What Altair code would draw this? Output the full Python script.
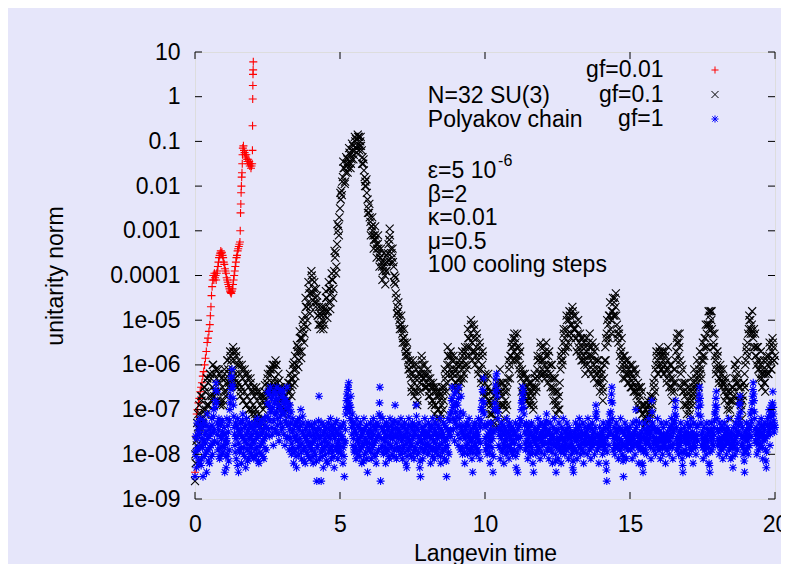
import altair as alt
import pandas as pd

# ---------------- data ----------------
series_names = ["gf=0.01", "gf=0.1", "gf=1"]
series_colors = ["#ff0000", "#000000", "#0000ff"]

# gf=0.01 (red +): Langevin time and log10(unitarity norm)
red_t = [0.00, 0.03, 0.06, 0.09, 0.12, 0.15, 0.18, 0.21, 0.24, 0.27, 0.30, 0.33, 0.36, 0.39, 0.42,
         0.45, 0.48, 0.51, 0.53, 0.55, 0.57, 0.59, 0.61, 0.63, 0.65, 0.67, 0.69, 0.71, 0.73, 0.75,
         0.77, 0.79, 0.81, 0.83, 0.85, 0.87, 0.89, 0.91, 0.93, 0.95, 0.97, 0.99, 1.01, 1.03, 1.05,
         1.07, 1.09, 1.11, 1.13, 1.15, 1.17, 1.19, 1.21, 1.23, 1.25, 1.27, 1.29, 1.31, 1.33, 1.35,
         1.37, 1.39, 1.41, 1.43, 1.45, 1.47, 1.49, 1.51, 1.53, 1.55, 1.56, 1.57, 1.58, 1.59, 1.60,
         1.61, 1.62, 1.63, 1.64, 1.65, 1.67, 1.69, 1.71, 1.73, 1.75, 1.77, 1.79, 1.81, 1.83, 1.85,
         1.87, 1.89, 1.91, 1.93, 1.95, 1.97, 1.98, 1.985, 1.99, 1.995, 2.00, 2.005, 2.01]
red_log10 = [-8.4, -7.6, -7.1, -7.0, -6.85, -6.75, -6.6, -6.5, -6.4, -6.25, -6.15, -6.0, -5.85, -5.7, -5.5,
             -5.4, -5.25, -5.1, -4.9, -4.7, -4.45, -4.25, -4.1, -4.0, -4.1, -3.95, -4.05, -4.0, -4.1, -3.95,
             -3.9, -3.8, -3.7, -3.6, -3.55, -3.5, -3.45, -3.5, -3.48, -3.55, -3.6, -3.7, -3.75, -3.85, -3.9,
             -3.95, -4.05, -4.1, -4.15, -4.2, -4.25, -4.3, -4.35, -4.38, -4.4, -4.35, -4.3, -4.2, -4.1, -4.0,
             -3.9, -3.8, -3.7, -3.6, -3.55, -3.45, -3.4, -3.35, -3.3, -3.25, -3.0, -2.6, -2.4, -2.15, -2.0,
             -1.8, -1.7, -1.5, -1.3, -1.15, -1.1, -1.2, -1.25, -1.3, -1.35, -1.3, -1.4, -1.45, -1.4, -1.5,
             -1.45, -1.55, -1.5, -1.6, -1.55, -1.5, -1.2, -0.65, -0.05, 0.25, 0.5, 0.6, 0.78]

# gf=0.1 (black x): log10 values, one row per unit of Langevin time.
# black_rows at t = k + j*0.05 ; black_mid_rows at k + 0.025 + j*0.05 ; black_extra_rows at k + 0.0125 + j*0.05
black_dt = 0.05
black_rows = [
    [-8.6, -7.7, -7.4, -6.9, -7.1, -6.7, -7.0, -6.6, -6.9, -6.4, -6.7, -6.3, -6.5, -6.2, -6.6, -6.3, -6.6, -6.4, -6.8, -6.5],
    [-6.6, -6.3, -6.4, -6.1, -6.2, -5.9, -6.1, -5.9, -6.2, -6.0, -6.4, -6.2, -6.5, -6.3, -6.6, -6.4, -6.7, -6.5, -6.8, -6.6],
    [-6.9, -6.7, -7.0, -6.8, -7.1, -6.9, -7.2, -7.0, -6.6, -6.8, -6.3, -6.5, -6.2, -6.4, -6.1, -6.3, -6.0, -6.4, -6.5, -6.7],
    [-6.8, -6.6, -7.0, -6.8, -6.6, -6.4, -6.5, -6.3, -6.1, -5.8, -6.0, -5.6, -5.7, -5.4, -5.4, -5.1, -4.9, -4.7, -4.6, -4.4],
    [-4.4, -4.1, -4.3, -4.5, -4.6, -4.9, -5.1, -4.9, -5.0, -4.7, -4.8, -4.5, -4.6, -4.3, -4.4, -4.1, -3.9, -3.5, -3.3, -2.9],
    [-2.5, -2.1, -1.8, -1.6, -1.7, -1.4, -1.5, -1.3, -1.4, -1.1, -1.2, -0.95, -1.1, -0.9, -1.0, -1.2, -1.5, -1.8, -2.0, -2.3],
    [-2.6, -2.8, -2.9, -3.1, -3.1, -3.3, -3.3, -3.5, -3.6, -3.8, -3.7, -4.0, -3.9, -3.5, -3.2, -3.4, -3.6, -3.8, -4.2, -4.5],
    [-4.8, -5.0, -5.1, -5.3, -5.4, -5.6, -5.7, -5.9, -6.1, -6.3, -6.2, -6.4, -6.3, -6.6, -6.5, -6.4, -6.1, -6.0, -6.3, -6.2],
    [-6.5, -6.3, -6.7, -6.5, -6.8, -6.6, -6.9, -6.7, -7.0, -6.8, -6.9, -6.6, -6.5, -6.2, -6.0, -5.8, -6.1, -5.9, -6.2, -6.1],
    [-6.4, -6.2, -6.3, -6.0, -6.1, -5.9, -6.0, -5.8, -5.6, -5.4, -5.3, -5.5, -5.4, -5.7, -5.6, -5.9, -5.8, -6.1, -6.0, -6.3],
    [-6.4, -6.6, -6.5, -6.8, -6.9, -7.1, -7.0, -7.2, -6.8, -6.6, -6.4, -6.6, -6.7, -6.9, -6.8, -6.6, -6.3, -6.0, -5.8, -5.6],
    [-5.7, -5.5, -5.6, -5.8, -6.0, -6.3, -6.5, -6.4, -6.6, -6.5, -6.7, -6.6, -6.8, -6.7, -6.5, -6.3, -6.1, -5.9, -5.8, -5.9],
    [-5.9, -6.0, -5.8, -6.1, -6.0, -6.2, -6.3, -6.5, -6.6, -6.8, -6.9, -6.7, -6.1, -5.7, -5.5, -5.4, -5.2, -5.3, -5.0, -5.1],
    [-5.1, -4.9, -5.2, -5.4, -5.3, -5.5, -5.7, -5.6, -5.8, -5.9, -5.7, -5.8, -5.6, -5.9, -5.8, -6.0, -5.9, -6.1, -6.2, -6.3],
    [-6.4, -6.5, -6.3, -5.6, -5.3, -5.1, -4.9, -5.0, -4.8, -4.6, -4.7, -5.1, -5.5, -5.8, -5.7, -6.0, -6.1, -5.9, -6.2, -6.1],
    [-6.3, -6.2, -6.4, -6.3, -6.5, -6.6, -6.8, -6.7, -6.9, -7.1, -7.2, -7.0, -7.1, -6.9, -7.0, -6.8, -6.7, -6.3, -6.0, -5.9],
    [-6.0, -5.8, -6.1, -5.9, -6.0, -6.1, -5.9, -6.2, -6.3, -6.5, -6.4, -6.1, -5.7, -5.3, -5.6, -6.2, -6.4, -6.6, -6.7, -6.9],
    [-6.8, -6.9, -6.6, -6.7, -6.4, -6.5, -6.2, -6.3, -6.0, -6.1, -5.8, -5.6, -5.4, -5.3, -5.1, -4.9, -5.0, -5.3, -5.6, -5.9],
    [-6.0, -6.1, -6.3, -6.2, -6.4, -6.6, -6.5, -6.7, -6.9, -7.0, -6.8, -6.5, -6.3, -6.1, -6.2, -6.5, -6.8, -7.0, -6.7, -6.2],
    [-5.9, -5.5, -5.2, -5.0, -5.1, -5.4, -5.6, -5.8, -5.9, -6.1, -6.0, -6.3, -6.2, -6.4, -6.1, -6.0, -5.8, -5.9, -5.7, -5.6],
    [-5.8],
]
black_mid_rows = [
    [-8.2, -7.3, -7.6, -7.3, -6.8, -7.2, -6.5, -7.0, -6.3, -6.9, -6.2, -6.7, -6.0, -6.6, -6.1, -6.8, -6.2, -6.9, -6.3, -6.8],
    [-6.2, -6.6, -5.9, -6.4, -5.8, -6.3, -5.7, -6.3, -5.8, -6.4, -6.0, -6.6, -6.1, -6.8, -6.2, -6.9, -6.3, -7.0, -6.4, -7.0],
    [-6.6, -7.1, -6.6, -7.2, -6.7, -7.3, -6.8, -6.7, -6.9, -6.4, -6.7, -6.1, -6.6, -6.0, -6.5, -5.9, -6.6, -6.2, -6.8, -6.5],
    [-7.1, -6.9, -6.7, -6.5, -6.8, -6.2, -6.7, -6.0, -6.4, -6.1, -5.7, -5.9, -5.4, -5.7, -5.2, -5.3, -4.7, -5.0, -4.3, -4.7],
    [-4.0, -4.4, -4.6, -4.3, -4.9, -4.7, -5.2, -4.7, -5.2, -4.9, -4.5, -4.8, -4.3, -4.6, -4.1, -4.3, -3.6, -3.8, -3.0, -2.7],
    [-2.3, -1.9, -1.6, -1.9, -1.5, -1.6, -1.25, -1.5, -1.2, -1.3, -1.0, -1.15, -0.9, -1.1, -1.1, -1.35, -1.65, -1.9, -2.15, -2.5],
    [-2.7, -2.9, -3.0, -3.2, -3.2, -3.4, -3.4, -3.6, -3.7, -3.9, -3.8, -3.9, -3.7, -3.3, -3.1, -3.5, -3.7, -4.0, -4.4, -4.7],
    [-4.9, -5.1, -5.2, -5.4, -5.5, -5.7, -5.8, -6.0, -6.2, -6.5, -6.0, -6.6, -6.1, -6.8, -6.3, -6.2, -5.9, -6.2, -6.5, -6.4],
    [-6.2, -6.6, -6.4, -6.8, -6.5, -6.9, -6.6, -7.0, -6.7, -7.1, -6.7, -6.8, -6.3, -6.4, -5.8, -6.0, -5.8, -6.2, -5.9, -6.4],
    [-6.1, -6.5, -6.0, -6.3, -5.8, -6.2, -5.7, -6.0, -5.4, -5.6, -5.1, -5.7, -5.2, -5.8, -5.4, -6.1, -5.6, -6.3, -5.8, -6.6],
    [-6.7, -6.3, -6.8, -6.6, -7.1, -6.8, -7.3, -7.0, -6.5, -6.9, -6.6, -6.4, -6.9, -6.6, -7.0, -6.4, -6.1, -5.8, -5.6, -5.4],
    [-5.4, -5.8, -5.9, -5.6, -6.2, -6.1, -6.7, -6.2, -6.8, -6.3, -6.9, -6.4, -6.6, -6.9, -6.3, -6.5, -5.9, -6.2, -5.6, -6.1],
    [-6.2, -5.7, -6.2, -5.8, -6.3, -6.0, -6.6, -6.3, -6.9, -6.6, -7.0, -6.4, -5.9, -5.9, -5.3, -5.6, -5.0, -5.5, -4.9, -5.3],
    [-4.8, -5.2, -5.4, -5.1, -5.6, -5.3, -5.9, -5.4, -6.0, -5.6, -6.0, -5.5, -5.8, -5.6, -6.1, -5.7, -6.2, -5.9, -6.4, -6.1],
    [-6.2, -6.6, -5.9, -5.4, -5.5, -4.9, -5.2, -4.8, -4.9, -4.5, -4.9, -5.3, -5.3, -5.6, -5.9, -5.8, -6.3, -6.0, -6.4, -6.2],
    [-6.5, -6.0, -6.6, -6.1, -6.7, -6.4, -7.0, -6.5, -7.1, -6.9, -7.0, -7.2, -6.9, -7.1, -6.7, -6.9, -6.5, -6.1, -5.8, -6.2],
    [-5.7, -6.0, -5.8, -6.2, -5.8, -6.3, -6.1, -6.0, -6.6, -6.3, -6.6, -5.9, -5.5, -5.5, -5.9, -6.0, -6.6, -6.4, -6.9, -6.6],
    [-7.0, -6.7, -6.8, -6.5, -6.6, -6.3, -6.4, -6.1, -6.2, -5.9, -5.9, -5.4, -5.6, -5.1, -5.2, -4.8, -5.2, -5.5, -5.8, -6.1],
    [-5.8, -6.3, -6.1, -6.4, -6.3, -6.4, -6.7, -6.6, -6.8, -6.8, -6.6, -6.7, -6.0, -6.3, -6.4, -6.7, -6.9, -6.8, -6.4, -6.0],
    [-5.7, -5.3, -5.0, -5.2, -5.3, -5.2, -5.8, -5.6, -6.1, -5.9, -6.2, -6.1, -6.4, -6.2, -5.9, -6.2, -5.6, -6.1, -5.5, -5.9],
]
black_extra_rows = [
    [-8.0, -7.8, -7.1, -7.4, -6.7, -7.3, -6.5, -7.1, -6.3, -6.9, -6.2, -6.8, -6.0, -6.7, -6.1, -6.8, -6.1, -6.9, -6.3, -6.9],
    [-6.1, -6.7, -5.9, -6.5, -5.7, -6.4, -5.6, -6.4, -5.7, -6.5, -5.9, -6.7, -6.0, -6.8, -6.1, -6.9, -6.2, -7.0, -6.3, -7.1],
    [-6.5, -7.2, -6.5, -7.3, -6.6, -7.4, -6.7, -7.2, -6.45, -6.9, -6.2, -6.6, -6.1, -6.5, -6.0, -6.4, -6.0, -6.6, -6.35, -6.9],
    [-6.6, -7.05, -6.55, -6.95, -6.4, -6.6, -6.3, -6.45, -5.95, -6.25, -5.55, -6.05, -5.25, -5.85, -5.0, -5.5, -4.5, -5.15, -4.15, -4.85],
    [-3.9, -4.55, -4.15, -4.7, -4.45, -5.1, -4.85, -5.1, -4.8, -5.1, -4.35, -4.95, -4.15, -4.75, -3.95, -4.5, -3.45, -3.95, -2.85, -3.1],
    [-2.15, -2.2, -1.45, -1.95, -1.35, -1.7, -1.15, -1.6, -1.05, -1.4, -0.9, -1.25, -0.85, -1.2, -0.9, -1.5, -1.4, -2.0, -1.85, -2.6],
    [-2.4, -3.1, -2.7, -3.4, -2.9, -3.6, -3.1, -3.8, -3.4, -4.1, -3.5, -4.2, -3.55, -3.65, -2.95, -3.7, -3.4, -4.15, -4.05, -4.85],
    [-4.6, -5.2, -4.9, -5.5, -5.2, -5.8, -5.5, -6.1, -5.9, -6.6, -5.9, -6.7, -6.0, -6.9, -6.2, -6.6, -5.8, -6.3, -6.0, -6.5],
    [-6.1, -6.7, -6.3, -6.9, -6.4, -7.1, -6.5, -7.2, -6.6, -7.2, -6.5, -7.0, -6.1, -6.6, -5.6, -6.2, -5.7, -6.3, -5.8, -6.5],
    [-6.0, -6.6, -5.9, -6.4, -5.7, -6.3, -5.6, -6.1, -5.2, -5.8, -5.0, -5.9, -5.1, -6.0, -5.3, -6.2, -5.5, -6.4, -5.7, -6.7],
    [-6.2, -6.9, -6.2, -7.1, -6.6, -7.4, -6.7, -7.4, -6.4, -7.0, -6.1, -6.9, -6.4, -7.2, -6.5, -6.9, -5.9, -6.3, -5.5, -5.9],
    [-5.3, -5.9, -5.3, -6.1, -5.7, -6.6, -6.2, -6.7, -6.3, -6.8, -6.4, -6.9, -6.5, -7.0, -6.2, -6.6, -5.8, -6.3, -5.5, -6.2],
    [-5.6, -6.3, -5.5, -6.4, -5.7, -6.5, -6.0, -6.8, -6.3, -7.1, -6.6, -7.0, -5.8, -6.0, -5.2, -5.7, -4.9, -5.6, -4.8, -5.4],
    [-4.7, -5.2, -4.9, -5.7, -5.0, -5.8, -5.4, -5.9, -5.5, -6.2, -5.4, -6.1, -5.3, -6.2, -5.5, -6.3, -5.6, -6.4, -5.9, -6.6],
    [-6.1, -6.8, -6.0, -5.9, -5.0, -5.4, -4.6, -5.3, -4.5, -4.9, -4.4, -5.4, -5.2, -6.1, -5.4, -6.3, -5.8, -6.2, -5.9, -6.4],
    [-6.0, -6.5, -6.1, -6.6, -6.2, -6.9, -6.5, -7.0, -6.6, -7.4, -6.9, -7.3, -6.8, -7.2, -6.7, -7.1, -6.4, -6.6, -5.7, -6.2],
    [-5.6, -6.1, -5.7, -6.2, -5.7, -6.4, -5.6, -6.5, -6.0, -6.8, -6.1, -6.4, -5.4, -5.8, -5.3, -6.5, -6.1, -6.9, -6.4, -7.1],
    [-6.5, -7.1, -6.3, -6.9, -6.1, -6.7, -5.9, -6.5, -5.7, -6.3, -5.5, -5.8, -5.1, -5.6, -4.8, -5.1, -4.8, -5.6, -5.3, -6.2],
    [-5.7, -6.4, -6.0, -6.5, -6.1, -6.8, -6.3, -7.0, -6.6, -7.2, -6.5, -6.8, -6.0, -6.4, -5.9, -6.8, -6.5, -7.2, -6.4, -6.5],
    [-5.6, -5.8, -4.9, -5.3, -4.8, -5.6, -5.3, -6.0, -5.6, -6.3, -5.7, -6.5, -5.9, -6.6, -5.8, -6.2, -5.5, -6.1, -5.4, -5.9],
]

# gf=1 (blue *): log10 values, one row per unit of Langevin time.
# blue_rows at t = k + j*0.025 ; blue_mid_rows at t = k + 0.0125 + j*0.025
blue_dt = 0.025
blue_rows = [
    [-8.5, -7.6, -8.3, -7.3, -7.9, -7.5, -8.2, -7.2, -7.8, -8.1, -7.4, -8.5, -7.7, -7.3, -8.0, -7.5, -8.4, -7.1, -7.9, -7.6,
     -8.2, -7.4, -7.8, -7.2, -8.0, -7.5, -7.0, -7.7, -6.8, -6.4, -6.6, -7.3, -7.9, -7.2, -8.1, -7.6, -7.3, -8.0, -7.5, -7.8],
    [-7.4, -8.4, -7.7, -8.3, -7.2, -8.0, -7.5, -7.9, -7.0, -6.7, -6.3, -6.1, -6.5, -6.9, -7.4, -7.8, -7.3, -8.1, -7.6, -7.2,
     -8.4, -7.5, -7.9, -7.3, -8.2, -7.6, -7.1, -8.0, -7.4, -7.7, -8.3, -7.2, -7.9, -7.5, -8.1, -7.3, -7.8, -7.6, -8.0, -7.4],
    [-7.7, -8.1, -7.3, -7.9, -7.5, -8.0, -7.2, -7.6, -8.2, -7.4, -7.8, -7.3, -8.0, -7.5, -7.7, -8.1, -7.2, -7.6, -7.9, -7.4,
     -6.6, -7.2, -6.9, -7.6, -6.5, -7.0, -7.4, -6.7, -7.8, -6.6, -7.1, -6.8, -7.5, -6.5, -7.2, -6.9, -7.7, -6.6, -7.3, -7.0],
    [-6.7, -7.4, -6.6, -7.1, -7.8, -6.8, -7.3, -6.5, -7.6, -7.0, -7.9, -6.9, -7.3, -8.0, -7.5, -7.2, -8.2, -7.6, -7.9, -7.3,
     -8.3, -7.7, -7.4, -8.0, -7.2, -7.8, -7.0, -8.1, -7.5, -7.3, -7.9, -7.6, -8.2, -7.4, -7.7, -8.0, -7.3, -7.8, -7.5, -8.1],
    [-7.6, -7.9, -7.4, -8.2, -7.7, -7.3, -8.0, -7.5, -8.6, -7.8, -7.4, -6.7, -8.1, -7.6, -8.6, -7.3, -7.9, -8.3, -7.5, -7.7,
     -8.0, -7.4, -7.8, -8.2, -7.3, -7.6, -7.9, -7.2, -8.1, -7.5, -7.8, -7.4, -8.3, -7.6, -7.3, -7.9, -7.5, -8.1, -7.7, -7.4],
    [-7.8, -7.4, -8.0, -7.6, -8.2, -7.3, -8.5, -7.7, -7.1, -6.8, -7.0, -6.5, -6.4, -6.9, -7.2, -6.7, -7.4, -7.1, -7.8, -7.3,
     -7.9, -7.5, -8.1, -7.2, -7.7, -8.0, -7.4, -7.9, -7.3, -7.6, -8.2, -7.5, -7.8, -7.2, -8.0, -7.4, -7.7, -8.1, -8.4, -7.5],
    [-7.6, -7.9, -7.3, -8.1, -7.5, -7.8, -7.2, -8.0, -7.4, -7.7, -8.2, -7.3, -7.6, -7.9, -7.1, -6.5, -8.6, -7.4, -7.8, -7.2,
     -8.0, -7.5, -7.7, -8.2, -7.3, -7.6, -7.9, -7.4, -8.1, -7.2, -7.8, -7.5, -8.0, -7.3, -7.6, -7.9, -6.9, -7.4, -8.1, -7.6],
    [-7.3, -7.9, -7.5, -8.0, -7.2, -7.7, -8.1, -7.4, -7.8, -7.3, -7.6, -8.2, -8.3, -7.5, -7.9, -7.2, -7.7, -8.0, -7.4, -7.8,
     -7.3, -7.6, -8.1, -7.5, -7.9, -6.9, -7.4, -8.0, -7.6, -7.3, -8.3, -8.5, -7.7, -7.4, -8.1, -7.5, -7.9, -7.2, -7.8, -7.6],
    [-7.5, -8.0, -7.3, -7.8, -7.6, -8.2, -7.4, -7.9, -7.2, -7.7, -8.1, -7.5, -7.3, -7.9, -7.6, -8.0, -7.4, -7.8, -7.2, -8.2,
     -7.6, -7.5, -7.9, -7.3, -8.1, -7.7, -7.4, -8.5, -7.8, -7.2, -8.0, -7.5, -7.1, -7.6, -6.8, -6.5, -7.2, -6.9, -7.7, -7.3],
    [-6.6, -7.4, -6.9, -7.8, -6.5, -7.2, -7.9, -6.7, -7.5, -8.0, -7.1, -7.6, -8.2, -7.4, -7.8, -7.3, -8.0, -7.6, -7.2, -7.9,
     -7.5, -7.7, -8.1, -8.4, -7.4, -7.8, -7.3, -7.6, -8.0, -7.5, -7.9, -7.2, -7.7, -8.1, -7.4, -7.0, -6.8, -6.6, -6.3, -7.1],
    [-7.4, -7.9, -7.6, -8.0, -7.3, -7.8, -7.5, -8.2, -7.7, -7.3, -8.0, -8.4, -7.5, -7.0, -6.6, -6.3, -6.2, -6.7, -7.2, -7.8,
     -7.4, -8.1, -7.6, -7.3, -7.9, -7.5, -8.2, -7.4, -7.7, -8.0, -7.2, -7.8, -7.5, -8.1, -7.3, -7.6, -7.9, -7.4, -8.0, -7.7],
    [-7.5, -7.9, -7.3, -8.3, -7.6, -8.4, -7.4, -7.8, -7.2, -7.6, -7.0, -6.8, -6.5, -6.6, -7.1, -7.5, -7.9, -7.3, -7.7, -8.1,
     -7.4, -7.8, -7.5, -8.0, -7.3, -7.6, -8.2, -8.4, -7.7, -7.4, -8.0, -7.5, -7.8, -7.2, -7.9, -7.6, -8.1, -7.3, -7.7, -7.5],
    [-7.8, -7.4, -8.0, -7.6, -7.3, -7.1, -7.9, -7.5, -8.1, -7.7, -7.3, -7.9, -7.6, -8.2, -7.4, -7.8, -7.2, -8.0, -8.4, -7.5,
     -7.7, -8.1, -7.3, -7.9, -7.6, -8.2, -7.4, -7.8, -7.2, -7.7, -8.0, -7.5, -7.9, -7.3, -7.6, -8.1, -7.4, -7.8, -7.5, -8.0],
    [-7.6, -8.3, -8.4, -7.5, -7.9, -7.3, -7.7, -8.1, -7.4, -7.8, -7.2, -7.6, -8.0, -7.5, -7.9, -7.3, -8.2, -7.7, -7.4, -7.8,
     -7.5, -8.0, -7.2, -7.6, -7.9, -7.4, -8.1, -7.7, -7.3, -7.8, -7.5, -8.0, -7.4, -6.9, -7.2, -7.9, -7.6, -8.2, -7.4, -7.7],
    [-7.8, -7.5, -8.0, -7.3, -7.7, -7.9, -7.4, -8.2, -8.6, -7.6, -7.3, -7.8, -7.1, -7.5, -6.8, -6.5, -7.2, -7.9, -7.4, -8.0,
     -7.6, -7.3, -7.8, -7.5, -8.1, -7.4, -7.9, -7.2, -7.7, -8.0, -7.5, -8.5, -7.8, -7.3, -7.6, -8.1, -7.4, -7.9, -7.5, -7.7],
    [-7.4, -7.9, -7.6, -8.1, -7.3, -7.8, -7.5, -8.0, -7.0, -7.4, -7.8, -7.6, -8.2, -7.3, -7.7, -7.9, -7.5, -8.2, -8.4, -7.6,
     -7.3, -7.9, -7.5, -8.0, -7.4, -7.7, -7.2, -7.8, -7.5, -8.1, -6.8, -7.3, -7.6, -7.9, -7.4, -8.0, -7.5, -7.8, -7.2, -7.7],
    [-7.9, -7.5, -8.1, -7.3, -7.7, -8.0, -7.4, -7.8, -7.6, -8.2, -7.3, -7.9, -7.5, -7.7, -8.0, -7.4, -7.8, -7.2, -7.6, -8.1,
     -7.5, -7.3, -7.1, -6.8, -7.4, -7.9, -7.6, -8.0, -7.5, -7.8, -7.3, -7.7, -8.1, -8.4, -7.6, -7.4, -7.9, -7.5, -8.0, -7.3],
    [-7.7, -7.4, -8.0, -7.6, -7.2, -7.9, -7.5, -8.2, -7.3, -7.8, -7.6, -8.0, -7.4, -7.7, -7.1, -6.8, -6.5, -6.9, -7.3, -7.8,
     -7.5, -8.1, -7.4, -7.9, -7.6, -8.0, -7.3, -7.7, -7.5, -8.2, -8.4, -7.6, -7.3, -7.9, -7.5, -7.8, -7.4, -7.1, -6.9, -6.6],
    [-7.2, -7.8, -7.5, -8.0, -7.3, -7.7, -7.9, -7.4, -8.1, -7.6, -7.3, -7.8, -7.5, -8.0, -7.4, -7.7, -7.2, -7.9, -7.6, -8.1,
     -7.5, -7.8, -8.3, -7.4, -7.7, -8.0, -7.3, -7.6, -7.9, -7.2, -7.5, -6.9, -6.7, -7.3, -7.8, -7.4, -8.0, -7.6, -8.4, -7.5],
    [-7.9, -7.3, -7.7, -8.0, -7.4, -7.8, -7.1, -7.6, -7.0, -6.7, -6.4, -6.8, -7.2, -7.7, -7.4, -8.0, -7.5, -7.9, -7.3, -7.6,
     -7.8, -7.2, -7.5, -8.1, -7.4, -7.7, -7.3, -7.9, -8.3, -7.6, -7.2, -7.5, -7.0, -7.8, -7.3, -6.9, -7.4, -6.6, -7.1, -7.5],
    [-7.4],
]
blue_mid_rows = [
    [-7.95, -8.05, -7.65, -7.85, -7.45, -8.15, -7.55, -7.35, -8.25, -7.65, -7.85, -7.25, -8.05, -7.55, -7.75, -7.95, -7.35, -7.65, -8.15, -7.45,
     -7.85, -7.55, -8.05, -7.35, -7.75, -7.15, -7.45, -6.95, -6.55, -6.85, -7.55, -7.75, -7.45, -8.05, -7.35, -7.85, -7.65, -7.25, -7.95, -7.55],
    [-7.85, -7.55, -8.05, -7.65, -7.75, -7.35, -8.15, -7.25, -6.85, -6.55, -6.25, -6.45, -6.75, -7.15, -7.55, -7.95, -7.65, -7.35, -8.25, -7.45,
     -7.75, -7.95, -7.55, -7.85, -7.45, -7.25, -7.65, -7.85, -8.05, -7.35, -7.55, -7.75, -8.15, -7.45, -7.65, -7.95, -7.35, -7.85, -7.55, -8.05],
    [-7.45, -7.75, -8.05, -7.35, -7.65, -7.85, -7.55, -8.15, -7.35, -7.95, -7.55, -7.75, -7.25, -8.05, -7.45, -7.65, -7.85, -7.35, -7.55, -7.15,
     -6.85, -7.45, -6.65, -7.25, -7.05, -6.75, -7.55, -6.95, -7.25, -6.85, -7.45, -6.65, -7.05, -7.35, -6.75, -7.55, -6.95, -7.15, -6.55, -7.45],
    [-7.05, -6.85, -7.55, -6.75, -7.25, -6.95, -7.65, -6.85, -7.35, -7.15, -7.45, -7.65, -7.05, -7.75, -7.85, -7.45, -7.95, -7.35, -7.65, -8.05,
     -7.55, -7.25, -7.85, -7.45, -7.65, -7.35, -7.95, -7.75, -7.15, -7.55, -8.15, -7.85, -7.45, -7.65, -7.95, -7.55, -8.05, -7.35, -7.75, -7.85],
    [-7.35, -7.75, -8.05, -7.55, -7.95, -7.45, -7.65, -8.15, -7.85, -7.55, -7.25, -7.65, -7.45, -7.95, -7.75, -8.05, -7.55, -7.35, -7.85, -7.65,
     -7.45, -8.15, -7.55, -7.75, -7.95, -7.45, -7.65, -7.85, -7.35, -7.95, -7.55, -8.05, -7.65, -7.45, -7.85, -7.25, -7.75, -7.95, -7.55, -7.85],
    [-7.55, -7.95, -7.65, -7.35, -7.85, -8.05, -7.75, -7.45, -6.95, -6.65, -6.75, -6.55, -6.85, -7.05, -6.95, -7.25, -7.55, -7.35, -7.65, -7.95,
     -7.45, -7.85, -7.55, -7.95, -7.35, -7.75, -7.65, -8.05, -7.45, -7.85, -7.55, -7.75, -8.15, -7.45, -7.65, -7.95, -7.35, -7.75, -7.85, -7.55],
    [-7.75, -7.45, -7.95, -7.65, -7.85, -7.35, -7.55, -7.75, -8.05, -7.45, -7.65, -7.95, -7.35, -7.55, -6.85, -7.15, -7.65, -7.85, -7.45, -7.95,
     -7.65, -7.35, -7.85, -7.55, -7.95, -7.45, -7.75, -8.05, -7.55, -7.65, -7.35, -7.85, -7.65, -7.45, -8.05, -7.25, -7.55, -7.75, -7.85, -7.45],
    [-7.65, -7.45, -7.85, -7.55, -7.95, -7.35, -7.65, -7.85, -7.55, -7.95, -7.45, -7.75, -8.05, -7.65, -7.35, -7.85, -7.55, -7.75, -8.05, -7.45,
     -7.65, -7.95, -7.35, -7.85, -7.55, -7.15, -7.75, -7.45, -7.95, -7.65, -8.15, -7.85, -7.55, -7.75, -7.45, -7.95, -7.65, -7.35, -7.85, -7.55],
    [-7.75, -7.55, -7.95, -7.45, -7.85, -7.65, -7.35, -8.05, -7.55, -7.85, -7.45, -7.75, -7.95, -7.55, -7.65, -7.35, -7.85, -7.55, -8.05, -7.45,
     -7.75, -7.95, -7.55, -7.65, -7.35, -7.85, -8.15, -7.65, -7.45, -7.95, -7.55, -7.25, -7.45, -7.05, -6.75, -6.95, -7.45, -6.65, -7.25, -7.05],
    [-6.85, -7.15, -7.55, -6.75, -7.35, -7.65, -7.05, -7.45, -7.85, -7.35, -7.55, -7.95, -7.65, -7.45, -7.85, -7.55, -7.75, -7.35, -7.65, -7.95,
     -7.45, -7.85, -7.65, -7.95, -7.55, -7.35, -7.75, -7.85, -7.45, -7.65, -7.55, -7.95, -7.35, -7.75, -7.25, -6.95, -6.55, -7.05, -6.85, -7.35],
    [-7.65, -7.75, -7.35, -7.85, -7.55, -7.65, -7.95, -7.45, -7.55, -7.85, -7.65, -8.05, -7.45, -6.85, -6.45, -6.95, -6.55, -7.05, -7.45, -7.55,
     -7.85, -7.45, -7.65, -7.95, -7.35, -7.75, -7.55, -7.85, -7.45, -7.65, -7.95, -7.55, -7.35, -7.85, -7.65, -7.45, -7.75, -7.95, -7.55, -7.45],
    [-7.75, -7.55, -8.05, -7.65, -7.95, -7.45, -7.65, -7.35, -7.85, -7.25, -6.85, -6.65, -6.75, -6.95, -7.35, -7.75, -7.55, -7.85, -7.45, -7.65,
     -7.95, -7.55, -7.75, -7.35, -7.85, -7.95, -7.65, -7.55, -7.45, -7.75, -7.65, -7.95, -7.45, -7.65, -7.85, -7.35, -7.55, -7.95, -7.65, -7.75],
    [-7.55, -7.75, -7.35, -7.45, -7.25, -7.55, -7.75, -7.85, -7.45, -7.55, -7.65, -7.75, -7.95, -7.55, -7.65, -7.45, -7.75, -8.15, -7.85, -7.65,
     -7.45, -7.75, -7.65, -7.85, -7.95, -7.55, -7.65, -7.45, -7.95, -7.85, -7.65, -7.75, -7.55, -7.45, -7.85, -7.65, -7.55, -7.65, -7.85, -7.75],
    [-7.95, -8.15, -7.85, -7.65, -7.55, -7.45, -7.95, -7.65, -7.55, -7.45, -7.35, -7.85, -7.75, -7.65, -7.55, -7.75, -7.95, -7.55, -7.55, -7.65,
     -7.75, -7.45, -7.35, -7.75, -7.65, -7.75, -7.85, -7.45, -7.55, -7.65, -7.75, -7.65, -7.15, -7.05, -7.55, -7.75, -7.85, -7.75, -7.55, -7.65],
    [-7.65, -7.75, -7.55, -7.45, -7.85, -7.65, -7.75, -8.35, -7.95, -7.45, -7.55, -7.35, -7.25, -7.05, -6.65, -6.85, -7.55, -7.65, -7.75, -7.85,
     -7.45, -7.55, -7.65, -7.85, -7.75, -7.65, -7.45, -7.45, -7.85, -7.75, -8.15, -8.05, -7.55, -7.45, -7.85, -7.75, -7.65, -7.75, -7.65, -7.55],
    [-7.65, -7.75, -7.85, -7.65, -7.55, -7.65, -7.75, -7.45, -7.25, -7.55, -7.75, -7.85, -7.75, -7.55, -7.85, -7.65, -7.85, -8.25, -7.95, -7.45,
     -7.65, -7.75, -7.75, -7.65, -7.55, -7.45, -7.55, -7.65, -7.85, -7.35, -7.05, -7.45, -7.75, -7.65, -7.75, -7.75, -7.65, -7.45, -7.45, -7.85],
    [-7.65, -7.85, -7.65, -7.55, -7.85, -7.65, -7.55, -7.75, -7.85, -7.65, -7.55, -7.65, -7.65, -7.85, -7.65, -7.55, -7.45, -7.35, -7.85, -7.75,
     -7.45, -7.25, -6.95, -7.15, -7.65, -7.75, -7.85, -7.75, -7.65, -7.55, -7.45, -7.95, -8.25, -7.95, -7.55, -7.65, -7.75, -7.75, -7.65, -7.55],
    [-7.55, -7.75, -7.85, -7.35, -7.55, -7.65, -7.85, -7.75, -7.55, -7.65, -7.85, -7.65, -7.55, -7.35, -6.95, -6.65, -6.75, -7.15, -7.55, -7.65,
     -7.85, -7.75, -7.65, -7.75, -7.85, -7.65, -7.45, -7.55, -7.85, -8.25, -7.95, -7.45, -7.65, -7.75, -7.65, -7.55, -7.25, -7.05, -6.75, -6.95],
    [-7.45, -7.65, -7.75, -7.65, -7.45, -7.85, -7.65, -7.75, -7.85, -7.45, -7.55, -7.65, -7.75, -7.65, -7.55, -7.45, -7.55, -7.75, -7.85, -7.75,
     -7.65, -8.05, -7.85, -7.55, -7.85, -7.65, -7.45, -7.75, -7.55, -7.35, -7.15, -6.85, -7.05, -7.55, -7.65, -7.75, -7.85, -8.15, -7.95, -7.65],
    [-7.55, -7.45, -7.85, -7.65, -7.55, -7.45, -7.35, -7.25, -6.85, -6.55, -6.65, -7.05, -7.45, -7.55, -7.75, -7.75, -7.65, -7.55, -7.45, -7.75,
     -7.55, -7.35, -7.85, -7.65, -7.55, -7.45, -7.65, -8.15, -7.95, -7.35, -7.35, -7.15, -7.45, -7.55, -7.05, -7.15, -6.85, -6.95, -7.25, -7.35],
]

# axis ticks and labels
x_ticks = [0, 5, 10, 15, 20]
y_ticks = [1e-9, 1e-8, 1e-7, 1e-6, 1e-5, 1e-4, 1e-3, 1e-2, 1e-1, 1, 10]
y_tick_labels = ["1e-09", "1e-08", "1e-07", "1e-06", "1e-05", "0.0001", "0.001", "0.01", "0.1", "1", "10"]

# annotation text (placed in data coordinates: Langevin time, log10 value of the baseline)
ann_text = ["N=32 SU(3)", "Polyakov chain", "ε=5 10", "β=2", "κ=0.01", "μ=0.5", "100 cooling steps"]
ann_t = [8.03, 8.03, 8.03, 8.03, 8.03, 8.03, 8.03]
ann_log10 = [-0.14, -0.68, -1.82, -2.35, -2.87, -3.40, -3.92]
sup_text = ["-6"]
sup_t = [10.45]
sup_log10 = [-1.55]

# ---------------- build tables ----------------
rows = []
for t, v in zip(red_t, red_log10):
    rows.append({"t": t, "value": 10 ** v, "series": series_names[0]})
for offset, table in ((0.0, black_rows), (0.5, black_mid_rows), (0.25, black_extra_rows)):
    for k, row in enumerate(table):
        for j, v in enumerate(row):
            rows.append({"t": k + (j + offset) * black_dt, "value": 10 ** v, "series": series_names[1]})
for offset, table in ((0.0, blue_rows), (0.5, blue_mid_rows)):
    for k, row in enumerate(table):
        for j, v in enumerate(row):
            rows.append({"t": k + (j + offset) * blue_dt, "value": 10 ** v, "series": series_names[2]})
df = pd.DataFrame(rows)

ann_df = pd.DataFrame({"t": ann_t, "value": [10 ** v for v in ann_log10], "text": ann_text})
sup_df = pd.DataFrame({"t": sup_t, "value": [10 ** v for v in sup_log10], "text": sup_text})
xt_df = pd.DataFrame({"t": x_ticks})
yt_df = pd.DataFrame({"value": y_ticks})

W, H = 580, 447
FONT = "Liberation Sans"
BG = "#e6e6fa"
TICK = 7
MSIZE = 64

label_expr = ""
for v, lab in zip(y_ticks, y_tick_labels):
    label_expr += f"datum.value < {v * 3:.3g} ? '{lab}' : "
label_expr += "''"

xscale = alt.Scale(domain=[0, 20], nice=False, zero=False)
yscale = alt.Scale(type="log", domain=[1e-9, 10], nice=False)

xaxis = alt.Axis(values=x_ticks, ticks=False, domain=False, grid=False, labelFlush=False,
                 labelOverlap=False, labelFontSize=23, labelPadding=14, labelColor="black",
                 labelFont=FONT, title="Langevin time", titleFontSize=23, titleFont=FONT,
                 titleFontWeight="normal", titleColor="black", titleX=W / 2, titleY=61,
                 titleBaseline="alphabetic", titleAlign="center")
yaxis = alt.Axis(values=y_ticks, ticks=False, domain=False, grid=False, labelOverlap=False,
                 labelExpr=label_expr, labelFontSize=23, labelPadding=15, labelColor="black",
                 labelFont=FONT, labelFlush=False, title="unitarity norm", titleFontSize=23,
                 titleFont=FONT, titleFontWeight="normal", titleColor="black", titleX=-133,
                 titleY=H / 2, titleAngle=270, titleBaseline="alphabetic", titleAlign="center")

plus_path = "M-1,0L1,0M0,-1L0,1"
cross_path = "M-1,-1L1,1M-1,1L1,-1"
star_path = "M-1,0L1,0M0,-1L0,1M-0.75,-0.75L0.75,0.75M-0.75,0.75L0.75,-0.75"

legend = alt.Legend(orient="none", legendX=508.5, legendY=6.5, title=None, padding=0,
                    labelFontSize=23, labelFont=FONT, labelColor="black", labelAlign="right",
                    labelOffset={"expr": "-63"}, symbolSize=50, symbolStrokeWidth=1, rowPadding=0.5,
                    symbolFillColor="transparent")

points = alt.Chart(df).mark_point(filled=False, size=MSIZE, strokeWidth=1.1, opacity=1).encode(
    x=alt.X("t:Q", scale=xscale, axis=xaxis),
    y=alt.Y("value:Q", scale=yscale, axis=yaxis),
    color=alt.Color("series:N", scale=alt.Scale(domain=series_names, range=series_colors), legend=legend),
    shape=alt.Shape("series:N", scale=alt.Scale(domain=series_names,
                                                range=[plus_path, cross_path, star_path]), legend=legend),
)

ann = alt.Chart(ann_df).mark_text(align="left", baseline="alphabetic", fontSize=23, font=FONT,
                                  color="black").encode(
    x=alt.X("t:Q", scale=xscale), y=alt.Y("value:Q", scale=yscale), text="text:N")
sup = alt.Chart(sup_df).mark_text(align="left", baseline="alphabetic", fontSize=16, font=FONT,
                                  color="black").encode(
    x=alt.X("t:Q", scale=xscale), y=alt.Y("value:Q", scale=yscale), text="text:N")

ytick_left = alt.Chart(yt_df).mark_rule(color="black", strokeWidth=1).encode(
    y=alt.Y("value:Q", scale=yscale), x=alt.value(0), x2=alt.value(TICK))
ytick_right = alt.Chart(yt_df).mark_rule(color="black", strokeWidth=1).encode(
    y=alt.Y("value:Q", scale=yscale), x=alt.value(W - TICK), x2=alt.value(W))
xtick_bottom = alt.Chart(xt_df).mark_rule(color="black", strokeWidth=1).encode(
    x=alt.X("t:Q", scale=xscale), y=alt.value(H), y2=alt.value(H - TICK))
xtick_top = alt.Chart(xt_df).mark_rule(color="black", strokeWidth=1).encode(
    x=alt.X("t:Q", scale=xscale), y=alt.value(0), y2=alt.value(TICK))

chart = alt.layer(points, ann, sup, ytick_left, ytick_right, xtick_bottom, xtick_top).properties(
    width=W, height=H,
    background=BG,
    autosize=alt.AutoSizeParams(type="none"),
    padding={"left": 187, "top": 44, "right": 6, "bottom": 65},
).configure_view(stroke="black", strokeWidth=1.5).configure(font=FONT)

chart.save("out.html", embed_options={"renderer": "svg", "actions": False})
